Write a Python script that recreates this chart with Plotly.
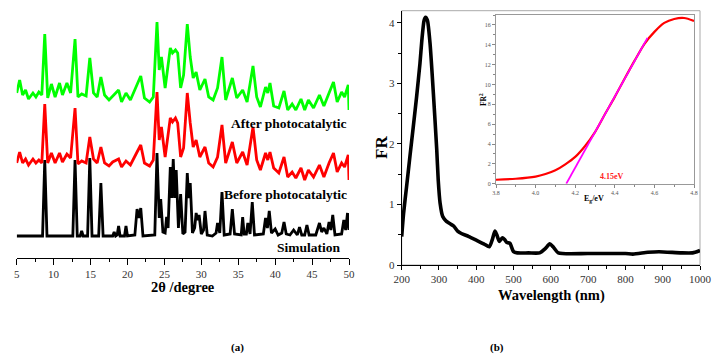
import plotly.graph_objects as go

W, H = 718, 356

# ---------- Panel (a): XRD patterns (intensity, a.u., offset stacked) ----------
exp_angle = [5.0, 5.4, 5.8, 6.2, 6.6, 7.2, 7.6, 8.0, 8.4, 8.8, 9.2, 9.7, 10.2, 10.8, 11.2, 11.8,
             12.3, 12.9, 13.3, 13.8, 14.4, 14.9, 15.4, 15.9, 16.4, 16.9, 17.5, 18.0, 18.8, 19.2,
             19.8, 20.4, 21.3, 21.8, 22.3, 23.0, 23.5, 24.0, 24.3, 24.6, 25.1, 25.8, 26.1, 26.5,
             26.8, 27.2, 27.6, 28.1, 28.5, 28.9, 29.3, 29.8, 30.5, 31.0, 31.6, 32.2, 32.8, 33.3,
             34.2, 34.8, 35.6, 36.2, 37.0, 37.5, 38.0, 38.7, 39.0, 39.3, 39.8, 40.5, 41.2, 41.7,
             42.3, 42.8, 43.5, 44.0, 44.5, 45.2, 46.0, 46.6, 47.3, 47.9, 48.4, 49.0, 49.4, 49.9, 50.0]

before_int = [95, 106, 95, 99, 93, 99, 95, 98, 95, 154, 95, 105, 95, 105, 96, 104,
              100, 150, 94, 97, 95, 121, 99, 95, 111, 95, 92, 96, 99, 91,
              97, 93, 106, 113, 95, 92, 98, 166, 118, 131, 101, 140, 136, 140,
              135, 101, 110, 165, 135, 111, 118, 101, 111, 95, 91, 101, 133, 95,
              116, 95, 106, 93, 131, 98, 88, 105, 98, 106, 90, 85, 101, 81,
              86, 80, 90, 78, 88, 81, 93, 81, 95, 105, 86, 95, 91, 103, 78]

after_int = [165, 178, 163, 168, 159, 165, 161, 166, 163, 224, 160, 174, 161, 175, 163, 175,
             165, 219, 161, 164, 162, 200, 165, 161, 181, 163, 158, 162, 168, 156,
             165, 158, 173, 182, 160, 156, 161, 236, 188, 201, 170, 210, 205, 208,
             205, 170, 183, 234, 201, 180, 186, 168, 179, 161, 158, 170, 201, 158,
             180, 160, 168, 156, 192, 161, 151, 171, 165, 175, 152, 150, 167, 148,
             154, 148, 159, 148, 158, 150, 163, 152, 165, 176, 156, 166, 161, 173, 148]

sim_angle = [5.0, 8.5, 8.8, 9.1, 12.6, 12.9, 13.2, 13.6, 13.8, 14.0, 14.6, 14.9, 15.2, 16.1, 16.4,
             16.7, 18.0, 18.2, 18.4, 18.6, 18.8, 19.0, 19.6, 19.8, 20.0, 21.0, 21.3, 21.55, 21.8,
             22.1, 23.7, 24.0, 24.3, 24.5, 24.8, 25.1, 25.3, 25.5, 25.8, 26.0, 26.2, 26.4, 26.6,
             26.9, 27.2, 27.5, 27.8, 28.1, 28.3, 28.5, 28.8, 29.1, 29.3, 29.5, 29.7, 30.0, 30.3,
             30.5, 30.8, 31.5, 32.0, 32.2, 32.5, 32.8, 33.1, 33.9, 34.2, 34.5, 35.4, 35.6, 35.8,
             36.1, 36.3, 36.6, 36.9, 37.2, 38.4, 38.7, 38.95, 39.2, 39.5, 40.0, 40.4, 40.9, 41.2,
             41.5, 42.0, 42.5, 43.0, 43.3, 43.6, 44.0, 44.3, 44.6, 45.5, 46.0, 46.3, 46.6, 47.0,
             47.3, 47.55, 47.8, 48.1, 49.0, 49.3, 49.55, 49.8, 50.0]
sim_int = [22, 22, 98, 22, 22, 98, 22, 22, 27, 22, 22, 100, 22, 22, 75,
           22, 22, 26, 22, 23, 32, 22, 22, 32, 22, 23, 49, 40, 50,
           22, 23, 105, 40, 59, 26, 25, 41, 30, 91, 60, 99, 60, 88,
           30, 64, 24, 26, 85, 60, 75, 25, 30, 45, 38, 43, 24, 28,
           47, 23, 22, 25, 35, 25, 66, 23, 24, 49, 24, 23, 41, 24,
           24, 35, 24, 56, 23, 24, 40, 30, 47, 25, 29, 23, 25, 36,
           24, 23, 28, 23, 31, 23, 23, 33, 23, 23, 35, 26, 30, 24,
           36, 28, 43, 23, 24, 38, 28, 45, 28]

xrd_ticks = [5, 10, 15, 20, 25, 30, 35, 40, 45, 50]

# ---------- Panel (b): UV-vis FR spectrum ----------
wavelength = [200, 205, 213, 222, 231, 240, 249, 254, 260, 264, 269, 276, 285, 294, 298, 303,
              310, 320, 330, 340, 350, 360, 380, 400, 420, 435, 443, 450, 455, 462, 470, 476,
              482, 490, 500, 510, 540, 570, 585, 597, 606, 620, 700, 800, 820, 860, 890, 950,
              980, 1000]
fr_value = [0.47, 0.85, 1.29, 1.79, 2.28, 2.78, 3.33, 3.71, 4.04, 4.09, 4.04, 3.66, 2.83, 1.90, 1.40, 1.02,
            0.80, 0.72, 0.68, 0.64, 0.56, 0.52, 0.47, 0.41, 0.35, 0.30, 0.42, 0.56, 0.50, 0.39, 0.45, 0.42,
            0.37, 0.36, 0.22, 0.20, 0.20, 0.20, 0.27, 0.35, 0.30, 0.20, 0.19, 0.19, 0.18, 0.21, 0.22, 0.20,
            0.20, 0.24]

# inset: FR^2 vs photon energy
energy = [3.80, 3.90, 4.00, 4.05, 4.10, 4.15, 4.20, 4.25, 4.30, 4.35, 4.40, 4.45, 4.50, 4.55,
          4.60, 4.65, 4.70, 4.75, 4.80]
fr_sq = [0.40, 0.50, 0.72, 0.98, 1.35, 1.95, 2.70, 3.80, 5.20, 7.00, 8.75, 10.6, 12.4, 14.1,
         15.3, 16.2, 16.6, 16.7, 16.4]
tangent_e = [4.155, 4.565]
tangent_fr = [0.0, 14.7]
gap_label = "4.15eV"

SERIF = "Liberation Serif"

fig = go.Figure()

# Panel (a)
fig.add_trace(go.Scatter(x=sim_angle, y=sim_int, mode="lines", line=dict(color="black", width=2.8),
                         xaxis="x", yaxis="y", showlegend=False, hoverinfo="skip"))
fig.add_trace(go.Scatter(x=exp_angle, y=before_int, mode="lines", line=dict(color="#ff0000", width=2.8),
                         xaxis="x", yaxis="y", showlegend=False, hoverinfo="skip"))
fig.add_trace(go.Scatter(x=exp_angle, y=after_int, mode="lines", line=dict(color="#00ff00", width=2.8),
                         xaxis="x", yaxis="y", showlegend=False, hoverinfo="skip"))

# Panel (b) main
fig.add_trace(go.Scatter(x=wavelength, y=fr_value, mode="lines",
                         line=dict(color="black", width=3.6, shape="spline", smoothing=0.6),
                         xaxis="x2", yaxis="y2", showlegend=False, hoverinfo="skip"))
# Inset
fig.add_trace(go.Scatter(x=energy, y=fr_sq, mode="lines",
                         line=dict(color="#ff0000", width=2.2, shape="spline", smoothing=0.8),
                         xaxis="x3", yaxis="y3", showlegend=False, hoverinfo="skip"))
fig.add_trace(go.Scatter(x=tangent_e, y=tangent_fr, mode="lines",
                         line=dict(color="#ff00ff", width=1.8),
                         xaxis="x3", yaxis="y3", showlegend=False, hoverinfo="skip"))


def dx(px):
    return px / W


def dy(py):
    return (H - py) / H


tickfont = dict(family=SERIF, size=11, color="#333333")

fig.update_layout(
    template="none",
    width=W, height=H,
    margin=dict(l=0, r=0, t=0, b=0, autoexpand=False),
    paper_bgcolor="white", plot_bgcolor="rgba(0,0,0,0)",
    xaxis=dict(domain=[dx(16.7), dx(349)], range=[5, 50], anchor="y", automargin=False,
               tickvals=xrd_ticks, ticks="outside", ticklen=6, tickcolor="black",
               showline=True, linecolor="black", linewidth=1, showgrid=False, zeroline=False,
               tickfont=tickfont,
               minor=dict(dtick=2.5, tick0=5, ticks="outside", ticklen=3, tickcolor="black")),
    yaxis=dict(domain=[dy(258), dy(5)], range=[0, 253], visible=False, anchor="x", automargin=False),
    xaxis2=dict(domain=[dx(401.7), dx(700)], range=[200, 1000], anchor="y2", automargin=False,
                dtick=100, tick0=200, ticks="outside", ticklen=4, tickcolor="black",
                showline=True, linecolor="black", linewidth=1, showgrid=False, zeroline=False,
                tickfont=tickfont,
                minor=dict(dtick=50, ticks="outside", ticklen=3, tickcolor="black")),
    yaxis2=dict(domain=[dy(265), dy(10.7)], range=[0, 4.2], anchor="x2", automargin=False,
                tickvals=[0, 1, 2, 3, 4], ticks="outside", ticklen=4, tickcolor="black",
                showline=True, linecolor="black", linewidth=1, showgrid=False, zeroline=False,
                tickfont=tickfont,
                minor=dict(dtick=0.5, ticks="outside", ticklen=3, tickcolor="black")),
    xaxis3=dict(domain=[dx(496), dx(694)], range=[3.8, 4.8], anchor="y3", automargin=False,
                dtick=0.2, tick0=3.8, tickformat=".1f", ticks="outside", ticklen=3, tickcolor="#888888",
                showline=True, linecolor="#999999", linewidth=1, mirror=True,
                showgrid=False, zeroline=False,
                tickfont=dict(family=SERIF, size=6, color="#555555"),
                minor=dict(dtick=0.1, ticks="outside", ticklen=2, tickcolor="#888888")),
    yaxis3=dict(domain=[dy(183.7), dy(15)], range=[0, 17], anchor="x3", automargin=False,
                dtick=2, ticks="outside", ticklen=3, tickcolor="#888888",
                showline=True, linecolor="#999999", linewidth=1, mirror=True,
                showgrid=False, zeroline=False,
                tickfont=dict(family=SERIF, size=6, color="#555555"),
                minor=dict(dtick=1, ticks="outside", ticklen=2, tickcolor="#888888")),
)

# frame of main panel (b): gray top/right
fig.add_shape(type="rect", xref="x2 domain", yref="y2 domain", x0=0, x1=1, y0=0, y1=1,
              line=dict(color="#aaaaaa", width=1), layer="below")

ann = []


def txt(x, y, s, size, color="black", bold=True, xanchor="center", textangle=0):
    t = f"<b>{s}</b>" if bold else s
    ann.append(dict(x=dx(x), y=dy(y), xref="paper", yref="paper", text=t, showarrow=False,
                    xanchor=xanchor, yanchor="middle", textangle=textangle,
                    font=dict(family=SERIF, size=size, color=color)))


txt(349, 124, "After photocatalytic", 13.5, xanchor="right")
txt(349, 194, "Before photocatalytic", 13.5, xanchor="right")
txt(343, 247, "Simulation", 13.5, xanchor="right")
txt(183, 287, "2θ /degree", 14.5)
txt(551, 295, "Wavelength (nm)", 14.5)
txt(381, 148, "FR", 17, textangle=-90)
txt(483, 99, "FR<sup>2</sup>", 7.5, textangle=-90)
txt(594, 199, "E<sub>g</sub>/eV", 8)
txt(612, 176, gap_label, 8, color="#ff2020")
txt(237, 347, "(a)", 11)
txt(497, 347, "(b)", 11)

fig.update_layout(annotations=ann)

fig.write_html("out.html", config={"displayModeBar": False},
               post_script="document.body.style.margin='0';document.body.style.overflow='hidden';")
